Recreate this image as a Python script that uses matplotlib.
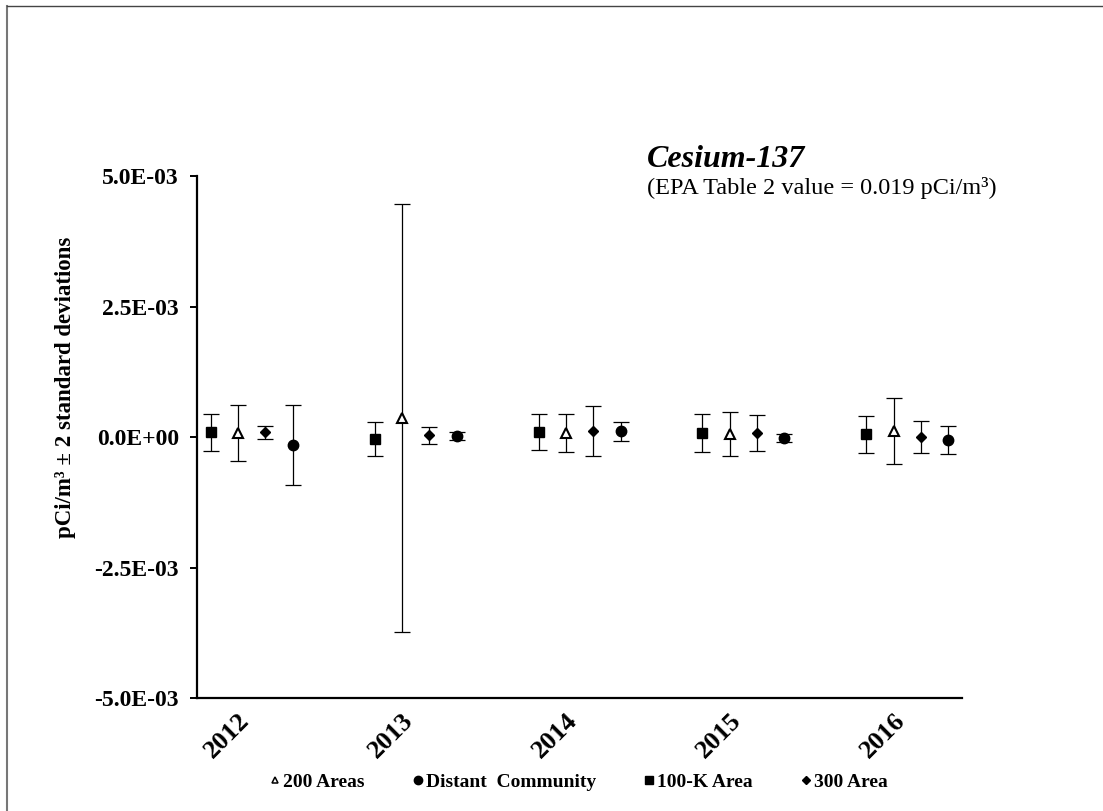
import matplotlib.pyplot as plt
from matplotlib.lines import Line2D
from matplotlib.ticker import FuncFormatter, MultipleLocator
import numpy as np

# --- Cesium-137 air concentrations (pCi/m3) with 2-sigma uncertainty ---
years = ['2012', '2013', '2014', '2015', '2016']

k100 = [9.0e-5, -4.0e-5, 9.6e-5, 7.7e-5, 5.2e-5]
k100_err = [3.5e-4, 3.2e-4, 3.5e-4, 3.6e-4, 3.6e-4]

areas200 = [7.7e-5, 3.6e-4, 7.7e-5, 6.5e-5, 1.15e-4]
areas200_err = [5.3e-4, 4.1e-3, 3.6e-4, 4.2e-4, 6.4e-4]

area300 = [9.0e-5, 3.3e-5, 1.1e-4, 8.0e-5, 0.0]
area300_err = [1.25e-4, 1.6e-4, 4.8e-4, 3.5e-4, 3.1e-4]

distant = [-1.5e-4, 1.3e-5, 1.1e-4, -1.9e-5, -6.3e-5]
distant_err = [7.7e-4, 7.7e-5, 1.8e-4, 7.0e-5, 2.7e-4]

plt.rcParams['font.family'] = ['Liberation Serif', 'DejaVu Serif']

fig = plt.figure(figsize=(11.03, 8.11), dpi=100)
ax = fig.add_axes([0.1786, 0.1393, 0.6936, 0.6436])

# each year takes six slots; the four stations sit in the first four
group = np.arange(len(years)) * 6

series = [
    (k100, k100_err, 0, dict(marker='s', ms=7.5, mfc='black', mec='black')),
    (areas200, areas200_err, 1, dict(marker='^', ms=7.5, mfc='white', mec='black', mew=1.5)),
    (area300, area300_err, 2, dict(marker='D', ms=5.5, mfc='black', mec='black')),
    (distant, distant_err, 3, dict(marker='o', ms=7.5, mfc='black', mec='black')),
]
for vals, errs, off, style in series:
    ax.errorbar(group + off, vals, yerr=errs, fmt='none', ecolor='black',
                elinewidth=0.9, capsize=5.5, capthick=0.9, zorder=2)
    ax.plot(group + off, vals, linestyle='none', zorder=3, **style)

ax.set_xlim(-0.5, 27.5)
ax.set_ylim(-5e-3, 5e-3)
ax.yaxis.set_major_locator(MultipleLocator(2.5e-3))
ax.yaxis.set_major_formatter(FuncFormatter(lambda v, p: '%.1E' % v))
ax.set_xticks([])

for side in ['top', 'right']:
    ax.spines[side].set_visible(False)
for side in ['left', 'bottom']:
    ax.spines[side].set_linewidth(1.6)
ax.tick_params(axis='y', direction='out', length=5, width=1.4, pad=8,
               labelsize=17)
for lbl in ax.get_yticklabels():
    lbl.set_fontweight('bold')

# rotated year labels under each group
for g, yr in zip(group, years):
    ax.text(g + 0.6, -0.072, yr, transform=ax.get_xaxis_transform(),
            rotation=45, ha='center', va='center', rotation_mode='anchor',
            fontsize=19, fontweight='bold')

fig.text(0.059, 0.708, 'pCi/m³ ± 2 standard deviations', rotation=90,
         ha='center', va='top', fontsize=16.5, fontweight='bold')

fig.text(0.5866, 0.794, 'Cesium-137', fontsize=23, fontweight='bold',
         fontstyle='italic', ha='left', va='baseline')
fig.text(0.5866, 0.761, '(EPA Table 2 value = 0.019 pCi/m³)', fontsize=17.5,
         ha='left', va='baseline')

handles = [
    Line2D([], [], linestyle='none', marker='^', ms=5, mfc='white', mec='black', mew=1.1),
    Line2D([], [], linestyle='none', marker='o', ms=6, color='black'),
    Line2D([], [], linestyle='none', marker='s', ms=5.5, color='black'),
    Line2D([], [], linestyle='none', marker='D', ms=4, color='black'),
]
labels = ['200 Areas', 'Distant  Community', '100-K Area', '300 Area']
fig.legend(handles, labels, loc='center', bbox_to_anchor=(0.525, 0.036),
           ncol=4, frameon=False, handlelength=0.5, handletextpad=0.15,
           columnspacing=2.5, prop={'weight': 'bold', 'size': 14})

# thin frame lines along the left and top edges
fig.add_artist(Line2D([0.0065, 0.0065], [0.0, 0.9926], color='#777777', lw=1.5))
fig.add_artist(Line2D([0.0065, 1.0], [0.9926, 0.9926], color='#444444', lw=1.0))

fig.savefig('out.png', dpi=100)
